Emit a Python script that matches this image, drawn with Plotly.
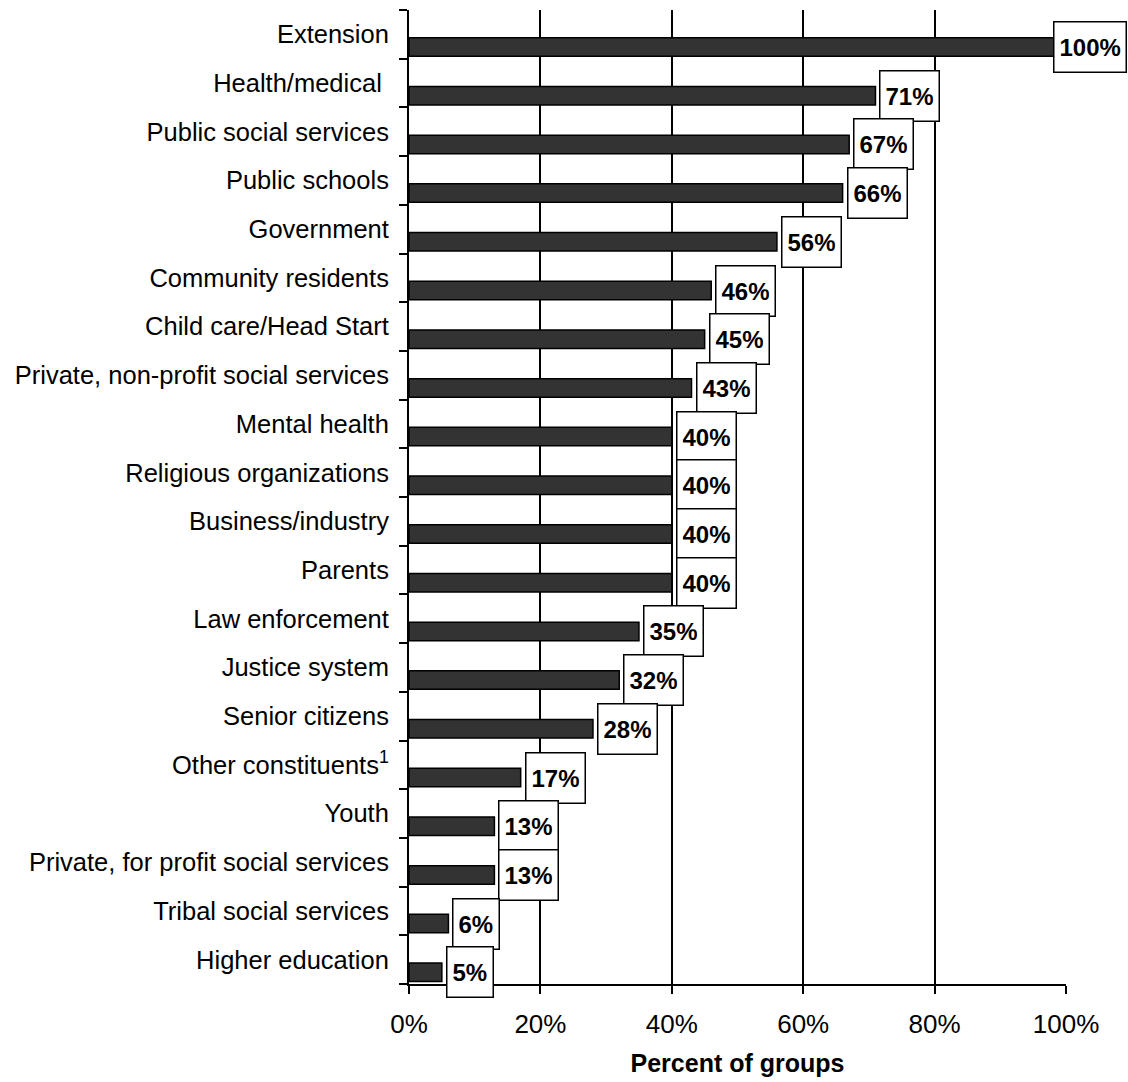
import plotly.graph_objects as go

categories = [
    "Extension", "Health/medical ", "Public social services", "Public schools",
    "Government", "Community residents", "Child care/Head Start",
    "Private, non-profit social services", "Mental health",
    "Religious organizations", "Business/industry", "Parents",
    "Law enforcement", "Justice system", "Senior citizens",
    "Other constituents<sup>1</sup>", "Youth",
    "Private, for profit social services", "Tribal social services",
    "Higher education",
]
values = [100, 71, 67, 66, 56, 46, 45, 43, 40, 40, 40, 40, 35, 32, 28, 17, 13, 13, 6, 5]
x_ticks = [0, 20, 40, 60, 80, 100]
x_ticklabels = ["0%", "20%", "40%", "60%", "80%", "100%"]
x_title = "Percent of groups"

FONT = "Liberation Sans, Arial, sans-serif"

BAR_OFFSET = 0.07
BAR_WIDTH = 0.38

fig = go.Figure()
fig.add_trace(go.Bar(
    x=values,
    y=list(range(len(categories))),
    orientation="h",
    offset=BAR_OFFSET,
    width=BAR_WIDTH,
    marker=dict(color="#333333", line=dict(color="black", width=1.5)),
    hoverinfo="x+y",
))

for i, v in enumerate(values):
    yc = i + BAR_OFFSET + BAR_WIDTH / 2
    if v >= 95:
        xanchor, xshift = "right", 61
    else:
        xanchor, xshift = "left", 4
    fig.add_annotation(
        x=v, y=yc, xref="x", yref="y",
        text=f"<b>{v}%</b>", showarrow=False,
        xanchor=xanchor, yanchor="middle", xshift=xshift,
        font=dict(family=FONT, size=24, color="black"),
        bgcolor="white", bordercolor="black", borderwidth=1.5,
        borderpad=5, height=39,
    )

fig.update_layout(
    width=1128, height=1082,
    margin=dict(l=409, r=62, t=10, b=98),
    plot_bgcolor="white", paper_bgcolor="white",
    showlegend=False,
    font=dict(family=FONT, size=25.5, color="black"),
    xaxis=dict(
        range=[0, 100], tickvals=x_ticks, ticktext=x_ticklabels,
        showgrid=True, gridcolor="black", gridwidth=1.5,
        zeroline=False, showline=True, linecolor="black", linewidth=2,
        ticks="outside", ticklen=8, tickwidth=1.5, tickcolor="black",
        tickfont=dict(family=FONT, size=26, color="black"),
        ticklabelstandoff=8,
        title=dict(text=f"<b>{x_title}</b>", font=dict(family=FONT, size=25, color="black"), standoff=16),
        automargin=False,
        fixedrange=True,
    ),
    yaxis=dict(
        range=[len(categories) - 0.5, -0.5],
        tickvals=list(range(len(categories))),
        ticktext=categories,
        showgrid=False, zeroline=False,
        showline=True, linecolor="black", linewidth=2,
        ticks="",
        tickfont=dict(family=FONT, size=25.5, color="black"),
        ticklabelstandoff=13,
        automargin=False,
        fixedrange=True,
        minor=dict(
            tickvals=[i - 0.5 for i in range(len(categories) + 1)],
            ticks="outside", ticklen=8, tickwidth=1.5, tickcolor="black", showgrid=False,
        ),
    ),
)

fig.write_html("out.html")
